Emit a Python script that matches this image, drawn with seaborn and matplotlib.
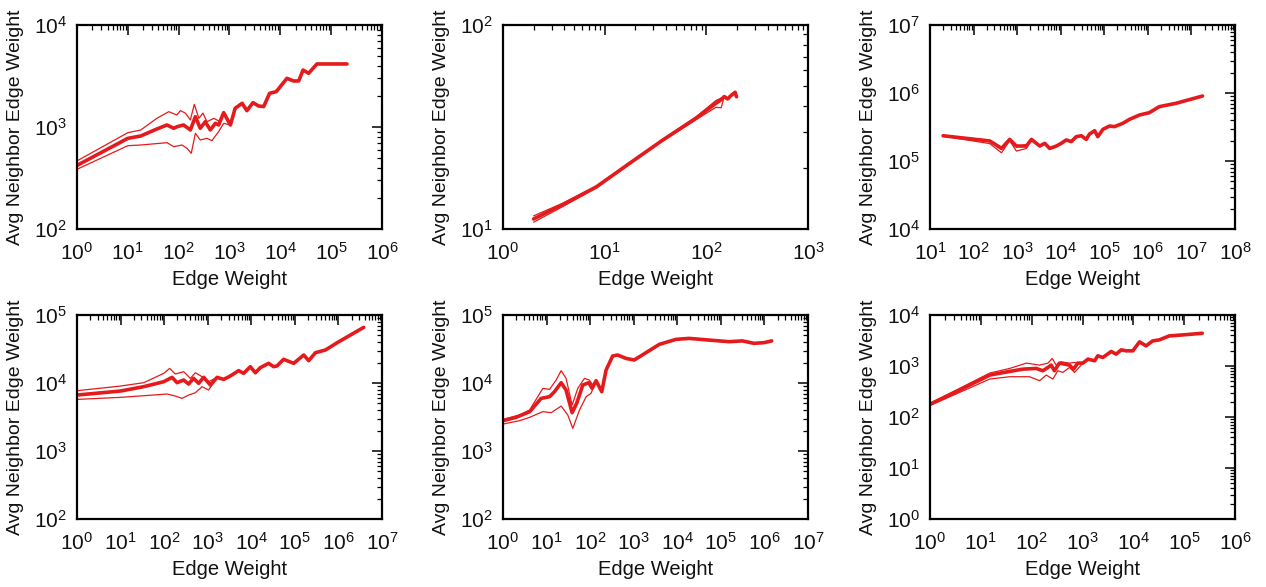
import numpy as np
import pandas as pd
import matplotlib
matplotlib.use("Agg")
import matplotlib.pyplot as plt
import matplotlib.ticker as mticker
import seaborn as sns

# ---- data (edge weight vs avg neighbor edge weight) ----
# panel 1
p1_x = [1, 10, 18, 37, 59, 80, 93, 125, 170, 213, 266, 334, 419, 526, 612, 767, 1043, 1290,
        1770, 2200, 2900, 3730, 4700, 6150, 8300, 13500, 18300, 23000, 28000, 36000, 52500, 205000]
p1_y = [420, 774, 817, 955, 1047, 971, 1007, 1047, 935, 1262, 971, 1127, 935, 1086, 1047, 1382, 1047,
        1525, 1707, 1446, 1733, 1607, 1585, 2140, 2220, 3000, 2825, 2830, 3620, 3360, 4150, 4150]
p1_hi_x = [1, 10, 18, 37, 64, 92, 108, 135, 170, 203, 250, 300, 360, 490, 660, 767, 1043]
p1_hi_y = [465, 880, 935, 1215, 1413, 1311, 1446, 1370, 1172, 1667, 1215, 1370, 1127, 1215, 1127, 1370, 1047]
p1_lo_x = [1, 10, 18, 59, 80, 116, 146, 177, 213, 266, 360, 450, 612, 767, 1043]
p1_lo_y = [385, 656, 666, 702, 641, 666, 618, 552, 867, 746, 774, 735, 901, 1086, 1047]

# panel 2
p2_x = [2, 3.9, 8.3, 17.6, 37.3, 79, 124, 139, 150, 162, 174, 192, 198]
p2_y = [11.2, 13.2, 16.1, 21.0, 27.3, 34.9, 41.3, 42.9, 44.6, 43.4, 45.0, 46.8, 44.5]
p2_hi_x = [2, 3.9, 8.3, 17.6, 37.3, 79, 124, 150]
p2_hi_y = [11.6, 13.4, 16.2, 21.1, 27.5, 35.4, 42.6, 44.6]
p2_lo_x = [2, 3.9, 8.3, 17.6, 37.3, 79, 124, 140, 150]
p2_lo_y = [10.8, 12.9, 15.9, 20.8, 27.0, 34.3, 39.5, 39.3, 44.6]

# panel 3
p3_x = [20, 236, 437, 675, 960, 1630, 2130, 3300, 4300, 5600, 7940, 10300, 13400, 17500, 22800,
        29700, 38500, 45700, 60000, 71000, 93000, 132000, 171000, 265000, 380000, 645000,
        1080000, 1830000, 4400000, 18000000]
p3_y = [235000, 197000, 153000, 208000, 166000, 166000, 208000, 166000, 182000, 153000, 166000,
        182000, 204000, 193000, 228000, 235000, 208000, 249000, 279000, 228000, 292000, 327000,
        320000, 358000, 410000, 475000, 513000, 630000, 705000, 903000]
p3_hi_x = [20, 236, 437, 675, 960, 1630, 2130]
p3_hi_y = [238000, 200000, 160000, 210000, 160000, 175000, 208000]
p3_lo_x = [20, 236, 437, 675, 960, 1630, 2130]
p3_lo_y = [232000, 180000, 132000, 200000, 140000, 153000, 208000]

# panel 4
p4_x = [1, 10, 34, 98, 152, 198, 280, 365, 475, 620, 810, 1150, 1640, 2330, 3300, 5130, 6680,
        9500, 12400, 16100, 25000, 32600, 38800, 55300, 94000, 160000, 208000, 297000, 505000,
        940000, 3800000]
p4_y = [6650, 7620, 8830, 10450, 12100, 10100, 11060, 9660, 11700, 9890, 12100, 9330, 12100,
        11300, 12670, 15200, 13870, 17380, 14140, 16800, 19450, 17380, 17800, 22300, 19450,
        25800, 21300, 27900, 30600, 39200, 65800]
p4_hi_x = [1, 10, 34, 98, 134, 180, 280, 400, 520, 740, 1050, 1640]
p4_hi_y = [7700, 9020, 10100, 13870, 16400, 13550, 14670, 11700, 14140, 12400, 10450, 12100]
p4_lo_x = [1, 10, 117, 180, 257, 365, 520, 740, 1050, 1640]
p4_lo_y = [5740, 6150, 6880, 6430, 5940, 6650, 7190, 8830, 7890, 12100]

# panel 5
p5_x = [1, 2.0, 4.1, 7.5, 11.7, 15.2, 21.6, 28, 38.6, 49, 67.9, 93, 111, 137, 185, 232, 328,
        427, 665, 1030, 1910, 3870, 9300, 18600, 53600, 155000, 312000, 576000, 975000, 1470000]
p5_y = [2790, 3130, 3790, 5940, 6290, 7450, 10100, 7890, 3660, 5010, 9330, 10100, 8340, 10800,
        7450, 15500, 24900, 25800, 23000, 21800, 27900, 37000, 43800, 45300, 42800, 40500,
        41600, 38300, 39200, 41600]
p5_hi_x = [1, 2.4, 4.1, 8.2, 11.7, 16.6, 21.6, 28, 38.6, 52, 74, 96, 115, 137]
p5_hi_y = [2920, 3380, 4010, 8340, 8050, 11060, 15200, 11700, 4740, 8340, 11700, 11060, 9330, 10800]
p5_lo_x = [1, 2.4, 4.1, 8.2, 12.8, 21.6, 30.7, 40, 57, 81, 105, 137]
p5_lo_y = [2490, 2790, 3130, 3790, 3660, 4580, 3380, 2150, 4010, 6290, 7050, 10800]

# panel 6
p6_x = [1, 4.5, 15, 37, 67.7, 123, 166, 209, 242, 281, 352, 442, 555, 666, 810, 1020, 1280,
        1730, 2000, 2510, 3670, 4600, 5770, 7230, 9800, 13200, 17800, 24000, 32400, 50700,
        92600, 227000]
p6_y = [178, 365, 664, 783, 869, 896, 807, 937, 1040, 807, 1140, 1090, 1040, 869, 1140, 1140,
        1365, 1265, 1585, 1470, 1925, 1707, 2073, 1983, 1983, 2970, 2483, 3105, 3250, 3890,
        4065, 4385]
p6_hi_x = [1, 15, 37, 79, 143, 209, 254, 303, 380, 555, 750, 1020]
p6_hi_y = [185, 727, 896, 1140, 1040, 1140, 1406, 1040, 1210, 1140, 1175, 1140]
p6_lo_x = [1, 15, 37, 91, 143, 194, 261, 327, 410, 555, 698, 940, 1020]
p6_lo_y = [168, 555, 616, 616, 515, 664, 555, 807, 748, 937, 748, 1040, 1140]

panels = [
    (p1_x, p1_y, p1_hi_x, p1_hi_y, p1_lo_x, p1_lo_y, (1, 1e6), (1e2, 1e4)),
    (p2_x, p2_y, p2_hi_x, p2_hi_y, p2_lo_x, p2_lo_y, (1, 1e3), (1e1, 1e2)),
    (p3_x, p3_y, p3_hi_x, p3_hi_y, p3_lo_x, p3_lo_y, (1e1, 1e8), (1e4, 1e7)),
    (p4_x, p4_y, p4_hi_x, p4_hi_y, p4_lo_x, p4_lo_y, (1, 1e7), (1e2, 1e5)),
    (p5_x, p5_y, p5_hi_x, p5_hi_y, p5_lo_x, p5_lo_y, (1, 1e7), (1e2, 1e5)),
    (p6_x, p6_y, p6_hi_x, p6_hi_y, p6_lo_x, p6_lo_y, (1, 1e6), (1e0, 1e4)),
]

sns.set_theme(style="white")
plt.rcParams['font.family'] = ['Liberation Sans', 'DejaVu Sans']
plt.rcParams['mathtext.default'] = 'regular'

RED = '#e41a1c'

fig = plt.figure(figsize=(12.66, 5.87), dpi=100)
W, H = 1266, 587
lefts = [77, 503, 930]
tops = [25, 315]
aw, ah = 305, 204

for i, (x, y, hx, hy, lx, ly, xlim, ylim) in enumerate(panels):
    r, c = divmod(i, 3)
    ax = fig.add_axes([lefts[c] / W, (H - tops[r] - ah) / H, aw / W, ah / H])
    sns.lineplot(x=hx, y=hy, ax=ax, color=RED, lw=0.9, sort=False, estimator=None)
    sns.lineplot(x=lx, y=ly, ax=ax, color=RED, lw=0.9, sort=False, estimator=None)
    sns.lineplot(x=x, y=y, ax=ax, color=RED, lw=2.6, sort=False, estimator=None,
                 solid_joinstyle='round')
    ax.set_xscale('log')
    ax.set_yscale('log')
    ax.set_xlim(*xlim)
    ax.set_ylim(*ylim)
    for axis in (ax.xaxis, ax.yaxis):
        axis.set_major_locator(mticker.LogLocator(base=10, numticks=20))
        axis.set_minor_locator(mticker.LogLocator(base=10, subs=np.arange(2, 10), numticks=100))
        axis.set_major_formatter(mticker.LogFormatterSciNotation())
        axis.set_minor_formatter(mticker.NullFormatter())
    ax.tick_params(which='both', direction='in', top=True, right=True, color='black',
                   labelsize=15, labelcolor='#111111')
    ax.tick_params(which='major', length=7, width=1.1)
    ax.tick_params(axis='x', which='major', pad=9)
    ax.tick_params(axis='y', which='major', pad=7)
    ax.tick_params(which='minor', length=3.5, width=0.9)
    for sp in ax.spines.values():
        sp.set_color('black')
        sp.set_linewidth(1.6)
    ax.set_xlabel('Edge Weight', fontsize=14.5, color='#111111')
    ax.set_ylabel('Avg Neighbor Edge Weight', fontsize=14, color='#111111')
    ax.xaxis.set_label_coords(0.5, -0.2)
    ax.yaxis.set_label_coords(-0.175, 0.5)
    ax.grid(False)

fig.savefig('out.png', dpi=100)
